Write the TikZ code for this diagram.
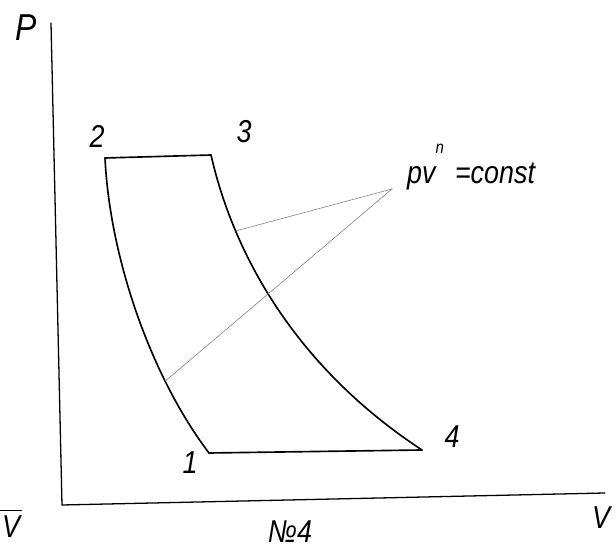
\documentclass[tikz,border=0pt]{standalone}
\usepackage{fontspec}
\setmainfont{Liberation Sans}
\newfontfamily\hand[FakeStretch=0.85]{Liberation Sans}
\usetikzlibrary{positioning}

\begin{document}
\begin{tikzpicture}[
    x=0.3mm,y=-0.3mm,
    axis/.style={line width=1.1pt,line cap=round},
    cycleline/.style={line width=1.4pt,line join=round,line cap=round},
    leader/.style={draw=black!50,line width=0.5pt},
    lbl/.style={font=\hand\fontsize{27}{28}\selectfont\itshape,inner sep=0pt},
    note/.style={font=\hand\fontsize{27}{28}\selectfont\itshape,inner sep=0pt}
]
    \useasboundingbox (0,0) rectangle (616,554);

    \coordinate (ptop) at (51,23);
    \coordinate (o) at (62,505);
    \coordinate (vend) at (605,493);
    \draw[axis] (ptop) -- (o) -- (vend);

    \coordinate (s1) at (209,453);
    \coordinate (s2) at (105,158);
    \coordinate (s3) at (211,155);
    \coordinate (s4) at (422,450);

    \draw[cycleline] (s2) -- (s3);
    \draw[cycleline] (s3) .. controls (235,260) and (300,370) .. (s4) coordinate[pos=0.24] (q34);
    \draw[cycleline] (s4) -- (s1);
    \draw[cycleline] (s1) .. controls (152,378) and (110,260) .. (s2) coordinate[pos=0.28] (q12);

    \node[lbl,font=\hand\fontsize{32}{33}\selectfont\itshape] (lP) at (26,28) {P};
    \node[lbl] (l2) at (97,136) {2};
    \node[lbl] (l3) at (244,132) {3};
    \node[lbl] (l1) at (190,463) {1};
    \node[lbl] (l4) at (452,437) {4};
    \node[note,anchor=base west] (lpv) at (407,184) {pv\raisebox{0.95em}{\fontsize{15}{16}\selectfont n}\hspace{0.35em}=const};
    \coordinate (apex) at (392,189);
    \draw[leader] (q34) -- (apex) -- (q12);

    \node[lbl] (lV) at (601,518) {V};
    \node[lbl,align=center] (lVbar) at (11,524) {\rule{6.5mm}{0.8pt}\\[-5pt]V};
    \node[note] (lno) at (290,532) {№4};
\end{tikzpicture}
\end{document}
